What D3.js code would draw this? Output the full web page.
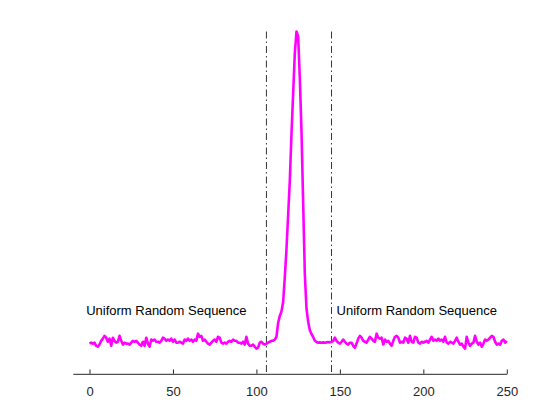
<!DOCTYPE html>
<html>
<head>
<meta charset="utf-8">
<script src="https://cdn.jsdelivr.net/npm/d3@7"></script>
<style>
  html, body { margin: 0; padding: 0; background: #ffffff; }
  svg { display: block; }
</style>
</head>
<body>
<svg id="chart" width="560" height="420"></svg>
<script>
// ---- data ----
const xStart = 0;            // first sample index
const signalValues = [
  -0.003, 0, -0.003, 0, -0.010, -0.013, -0.006, 0.006, 0.013, 0.022,
  0.016, 0.003, 0.013, -0.010, 0.016, 0.006, 0, 0.003, 0.022, 0.006,
  -0.006, 0, -0.003, -0.003, -0.006, 0, 0.006, 0.003, 0.006, 0,
  -0.006, -0.010, 0.003, -0.010, 0.016, -0.003, -0.013, 0.010, 0.006, 0.010,
  0.003, 0.003, 0, 0.006, 0.016, 0.013, 0.006, 0.010, 0.006, 0.013,
  0.003, 0.010, 0, 0, 0.003, 0, -0.003, 0.010, 0.006, 0.013,
  0.006, 0.010, 0.003, 0.010, 0.006, 0.029, 0.019, 0.022, 0.006, 0.010,
  0.003, -0.003, -0.006, 0, 0.006, 0.010, 0.003, 0.019, 0.016, 0,
  -0.003, 0, -0.003, 0.003, 0.006, 0.003, 0.010, 0.006, 0.006, 0,
  0, -0.003, 0.003, -0.006, 0.019, -0.003, -0.010, -0.010, -0.006, -0.013,
  -0.019, -0.016, 0, 0.003, -0.003, -0.006, -0.003, 0, 0.003, 0.006,
  0.006, 0.010, 0.019, 0.063, 0.086, 0.100, 0.130, 0.210, 0.300, 0.410,
  0.520, 0.670, 0.800, 0.930, 1.000, 0.985, 0.850, 0.680, 0.450, 0.220,
  0.110, 0.067, 0.040, 0.028, 0.018, 0.006, 0.002, 0, 0.001, 0,
  0.001, 0, 0.001, 0.002, 0.001, 0.003, 0.006, 0.016, 0.006, 0,
  -0.003, 0.003, 0.010, 0.003, -0.003, -0.006, 0, 0, -0.010, -0.016,
  -0.003, 0.013, 0.022, 0.016, 0.006, 0.003, 0, 0.010, 0.019, 0.013,
  0.006, 0.003, 0.029, 0.016, 0.013, 0.016, -0.006, 0.010, 0.003, 0.006,
  -0.003, -0.010, 0.006, 0.019, 0.022, 0.016, 0, 0.003, 0, 0.016,
  0.013, 0, 0.022, 0.003, 0, 0.019, 0.016, 0, -0.003, 0.003,
  0, 0.003, 0.006, 0, 0.010, 0.019, 0.006, 0.010, 0.006, 0.013,
  0.006, 0.010, 0.003, 0.019, 0, -0.003, 0.003, 0, -0.003, 0.006,
  0.016, 0.003, -0.006, -0.003, -0.013, -0.019, 0.019, 0, -0.010, -0.003,
  0, 0.022, 0.003, -0.006, 0, -0.013, -0.003, 0.010, 0.006, 0.010,
  0.016, 0.022, 0.019, 0.003, -0.006, -0.003, -0.006, 0.006, 0.010, 0, 0.006
];
const boundaryX = [106, 145];
const labelTexts = ["Uniform Random Sequence", "Uniform Random Sequence"];
const labelX = [-2, 148];
const labelY = [0.1, 0.1];
const xTicks = [0, 50, 100, 150, 200, 250];
const xDomain = [-10, 250];
const yDomain = [-0.1, 1];

// ---- layout ----
const plotL = 72.8, plotR = 506.8, plotT = 31.5, plotB = 373.8;

const svg = d3.select("#chart");
const x = d3.scaleLinear().domain(xDomain).range([plotL, plotR]);
const y = d3.scaleLinear().domain(yDomain).range([plotB, plotT]);

const pts = signalValues.map((v, i) => [xStart + i, v]);

// boundary lines
svg.selectAll("line.bound").data(boundaryX).enter().append("line")
  .attr("class", "bound")
  .attr("x1", d => x(d)).attr("x2", d => x(d))
  .attr("y1", plotT).attr("y2", plotB)
  .attr("stroke", "#000").attr("stroke-width", 0.8)
  .attr("stroke-dasharray", "7,3,1.5,3");

// signal line
svg.append("path")
  .datum(pts)
  .attr("fill", "none")
  .attr("stroke", "#ff00ff")
  .attr("stroke-width", 2.6)
  .attr("stroke-linejoin", "round")
  .attr("d", d3.line().x(d => x(d[0])).y(d => y(d[1])));

// x axis
const axis = d3.axisBottom(x).tickValues(xTicks).tickSizeInner(-4.3).tickSizeOuter(0).tickPadding(13);
const g = svg.append("g").attr("transform", `translate(0,${plotB})`).call(axis);
g.select(".domain").attr("stroke", "#262626").attr("stroke-width", 1);
g.selectAll(".tick line").attr("stroke", "#262626");
g.selectAll(".tick text")
  .attr("fill", "#262626")
  .style("font-family", "'Liberation Sans', Arial, Helvetica, sans-serif")
  .style("font-size", "13px");

// labels
svg.selectAll("text.lbl").data(labelTexts).enter().append("text")
  .attr("class", "lbl")
  .attr("x", (d, i) => x(labelX[i]))
  .attr("y", (d, i) => y(labelY[i]))
  .attr("dominant-baseline", "middle")
  .attr("fill", "#000")
  .style("font-family", "'Liberation Sans', Arial, Helvetica, sans-serif")
  .style("font-size", "13px")
  .text(d => d);
</script>
</body>
</html>
